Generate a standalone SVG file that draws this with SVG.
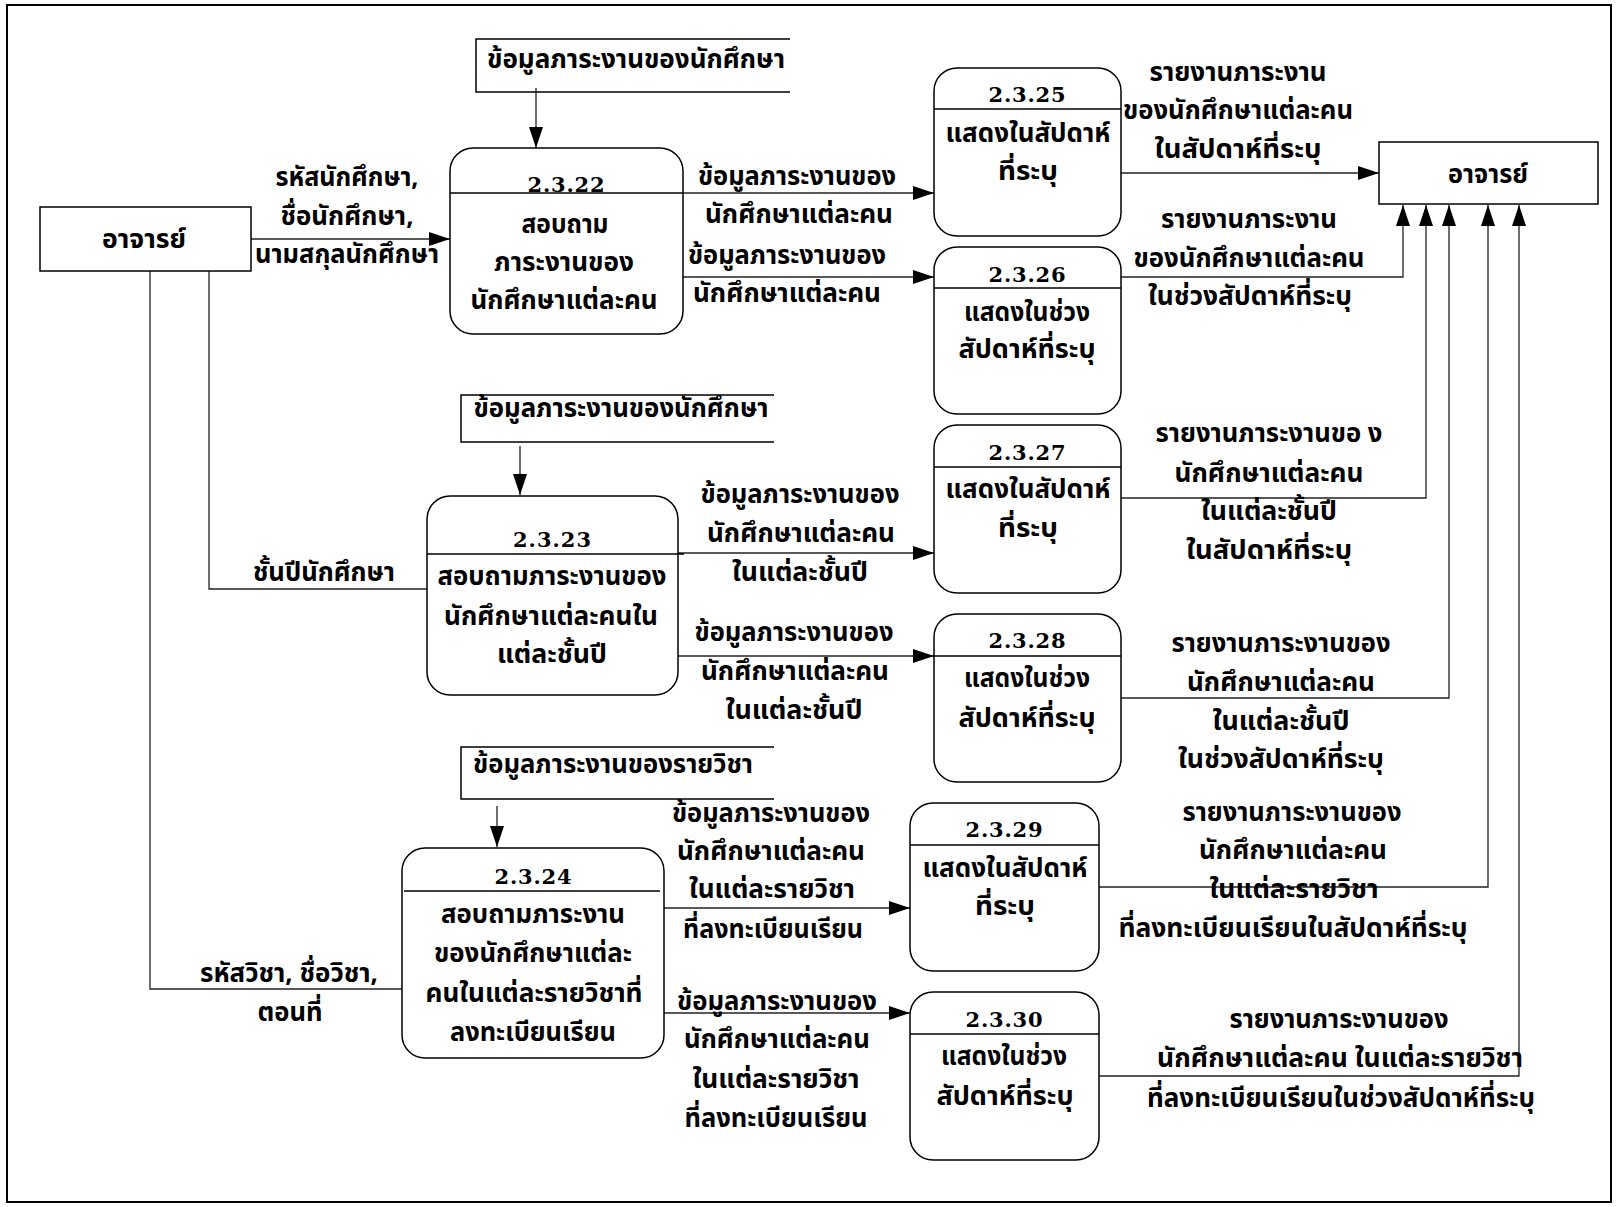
<svg xmlns="http://www.w3.org/2000/svg" width="1617" height="1207" viewBox="0 0 1617 1207">
<style>
.t{font-family:"Noto Sans Thai","Noto Sans","DejaVu Sans",sans-serif;font-weight:bold;font-size:26px;text-anchor:middle;fill:#000}
.n{font-family:"DejaVu Serif","Liberation Serif",serif;font-weight:bold;font-size:21px;text-anchor:middle;fill:#000}
.box{fill:#fff;stroke:#000;stroke-width:1.5}
.div{stroke:#000;stroke-width:1.3}
.ln{fill:none;stroke:#222;stroke-width:1.3}
</style>
<defs>
<marker id="ah" markerWidth="21" markerHeight="14" refX="21" refY="7" orient="auto" markerUnits="userSpaceOnUse">
<path d="M0,0 L21,7 L0,14 Z" fill="#000"/>
</marker>
</defs>
<rect x="0" y="0" width="1617" height="1207" fill="#fff"/>
<rect x="7" y="5" width="1604" height="1197" fill="none" stroke="#000" stroke-width="2"/>

<g id="connectors">
<line class="ln" x1="536" y1="88" x2="536" y2="148" marker-end="url(#ah)"/>
<line class="ln" x1="520" y1="446" x2="520" y2="495" marker-end="url(#ah)"/>
<line class="ln" x1="497" y1="806" x2="497" y2="847" marker-end="url(#ah)"/>
<line class="ln" x1="251" y1="239" x2="450" y2="239" marker-end="url(#ah)"/>
<polyline class="ln" points="209,271 209,589 427,589"/>
<polyline class="ln" points="150,271 150,989 402,989"/>
<line class="ln" x1="683" y1="193" x2="934" y2="193" marker-end="url(#ah)"/>
<line class="ln" x1="683" y1="277" x2="934" y2="277" marker-end="url(#ah)"/>
<line class="ln" x1="678" y1="553" x2="934" y2="553" marker-end="url(#ah)"/>
<line class="ln" x1="678" y1="656" x2="934" y2="656" marker-end="url(#ah)"/>
<line class="ln" x1="664" y1="908" x2="910" y2="908" marker-end="url(#ah)"/>
<line class="ln" x1="664" y1="1013" x2="910" y2="1013" marker-end="url(#ah)"/>
<line class="ln" x1="1121" y1="173" x2="1379" y2="173" marker-end="url(#ah)"/>
<polyline class="ln" points="1121,277 1403,277 1403,205" marker-end="url(#ah)"/>
<polyline class="ln" points="1121,498 1426,498 1426,205" marker-end="url(#ah)"/>
<polyline class="ln" points="1121,698 1449,698 1449,205" marker-end="url(#ah)"/>
<polyline class="ln" points="1099,887 1488,887 1488,205" marker-end="url(#ah)"/>
<polyline class="ln" points="1099,1076 1519,1076 1519,205" marker-end="url(#ah)"/>
</g>

<g id="labels">
<text class="t" x="347" y="186" textLength="143" lengthAdjust="spacingAndGlyphs">รหัสนักศึกษา,</text>
<text class="t" x="347" y="225" textLength="133" lengthAdjust="spacingAndGlyphs">ชื่อนักศึกษา,</text>
<text class="t" x="347" y="263" textLength="184" lengthAdjust="spacingAndGlyphs">นามสกุลนักศึกษา</text>
<text class="t" x="797" y="185" textLength="198" lengthAdjust="spacingAndGlyphs">ข้อมูลภาระงานของ</text>
<text class="t" x="799" y="223" textLength="188" lengthAdjust="spacingAndGlyphs">นักศึกษาแต่ละคน</text>
<text class="t" x="787" y="264" textLength="198" lengthAdjust="spacingAndGlyphs">ข้อมูลภาระงานของ</text>
<text class="t" x="787" y="302" textLength="188" lengthAdjust="spacingAndGlyphs">นักศึกษาแต่ละคน</text>
<text class="t" x="1238" y="81" textLength="177" lengthAdjust="spacingAndGlyphs">รายงานภาระงาน</text>
<text class="t" x="1238" y="119" textLength="230" lengthAdjust="spacingAndGlyphs">ของนักศึกษาแต่ละคน</text>
<text class="t" x="1238" y="158" textLength="167" lengthAdjust="spacingAndGlyphs">ในสัปดาห์ที่ระบุ</text>
<text class="t" x="1249" y="228" textLength="176" lengthAdjust="spacingAndGlyphs">รายงานภาระงาน</text>
<text class="t" x="1249" y="267" textLength="231" lengthAdjust="spacingAndGlyphs">ของนักศึกษาแต่ละคน</text>
<text class="t" x="1250" y="305" textLength="204" lengthAdjust="spacingAndGlyphs">ในช่วงสัปดาห์ที่ระบุ</text>

<text class="t" x="324" y="581" textLength="142" lengthAdjust="spacingAndGlyphs">ชั้นปีนักศึกษา</text>
<text class="t" x="800" y="503" textLength="199" lengthAdjust="spacingAndGlyphs">ข้อมูลภาระงานของ</text>
<text class="t" x="801" y="542" textLength="188" lengthAdjust="spacingAndGlyphs">นักศึกษาแต่ละคน</text>
<text class="t" x="800" y="581" textLength="136" lengthAdjust="spacingAndGlyphs">ในแต่ละชั้นปี</text>
<text class="t" x="794" y="641" textLength="199" lengthAdjust="spacingAndGlyphs">ข้อมูลภาระงานของ</text>
<text class="t" x="795" y="680" textLength="188" lengthAdjust="spacingAndGlyphs">นักศึกษาแต่ละคน</text>
<text class="t" x="794" y="719" textLength="137" lengthAdjust="spacingAndGlyphs">ในแต่ละชั้นปี</text>
<text class="t" x="1269" y="442" textLength="227" lengthAdjust="spacingAndGlyphs">รายงานภาระงานขอ ง</text>
<text class="t" x="1269" y="482" textLength="189" lengthAdjust="spacingAndGlyphs">นักศึกษาแต่ละคน</text>
<text class="t" x="1269" y="520" textLength="136" lengthAdjust="spacingAndGlyphs">ในแต่ละชั้นปี</text>
<text class="t" x="1269" y="559" textLength="166" lengthAdjust="spacingAndGlyphs">ในสัปดาห์ที่ระบุ</text>
<text class="t" x="1281" y="652" textLength="219" lengthAdjust="spacingAndGlyphs">รายงานภาระงานของ</text>
<text class="t" x="1281" y="691" textLength="188" lengthAdjust="spacingAndGlyphs">นักศึกษาแต่ละคน</text>
<text class="t" x="1281" y="730" textLength="137" lengthAdjust="spacingAndGlyphs">ในแต่ละชั้นปี</text>
<text class="t" x="1281" y="768" textLength="206" lengthAdjust="spacingAndGlyphs">ในช่วงสัปดาห์ที่ระบุ</text>

<text class="t" x="289" y="982" textLength="178" lengthAdjust="spacingAndGlyphs">รหัสวิชา, ชื่อวิชา,</text>
<text class="t" x="290" y="1021" textLength="65" lengthAdjust="spacingAndGlyphs">ตอนที่</text>
<text class="t" x="771" y="822" textLength="198" lengthAdjust="spacingAndGlyphs">ข้อมูลภาระงานของ</text>
<text class="t" x="771" y="860" textLength="188" lengthAdjust="spacingAndGlyphs">นักศึกษาแต่ละคน</text>
<text class="t" x="772" y="898" textLength="166" lengthAdjust="spacingAndGlyphs">ในแต่ละรายวิชา</text>
<text class="t" x="773" y="938" textLength="180" lengthAdjust="spacingAndGlyphs">ที่ลงทะเบียนเรียน</text>
<text class="t" x="777" y="1010" textLength="200" lengthAdjust="spacingAndGlyphs">ข้อมูลภาระงานของ</text>
<text class="t" x="777" y="1048" textLength="186" lengthAdjust="spacingAndGlyphs">นักศึกษาแต่ละคน</text>
<text class="t" x="776" y="1088" textLength="167" lengthAdjust="spacingAndGlyphs">ในแต่ละรายวิชา</text>
<text class="t" x="776" y="1127" textLength="183" lengthAdjust="spacingAndGlyphs">ที่ลงทะเบียนเรียน</text>
<text class="t" x="1292" y="821" textLength="219" lengthAdjust="spacingAndGlyphs">รายงานภาระงานของ</text>
<text class="t" x="1293" y="859" textLength="188" lengthAdjust="spacingAndGlyphs">นักศึกษาแต่ละคน</text>
<text class="t" x="1294" y="898" textLength="169" lengthAdjust="spacingAndGlyphs">ในแต่ละรายวิชา</text>
<text class="t" x="1293" y="937" textLength="349" lengthAdjust="spacingAndGlyphs">ที่ลงทะเบียนเรียนในสัปดาห์ที่ระบุ</text>
<text class="t" x="1339" y="1028" textLength="219" lengthAdjust="spacingAndGlyphs">รายงานภาระงานของ</text>
<text class="t" x="1340" y="1067" textLength="366" lengthAdjust="spacingAndGlyphs">นักศึกษาแต่ละคน ในแต่ละรายวิชา</text>
<text class="t" x="1341" y="1107" textLength="388" lengthAdjust="spacingAndGlyphs">ที่ลงทะเบียนเรียนในช่วงสัปดาห์ที่ระบุ</text>
</g>

<g id="ent-left">
<rect class="box" x="40" y="207" width="211" height="64"/>
<text class="t" x="144" y="248" textLength="84" lengthAdjust="spacingAndGlyphs">อาจารย์</text>
</g>
<g id="ent-right">
<rect class="box" x="1379" y="142" width="219" height="62"/>
<text class="t" x="1488" y="183" textLength="80" lengthAdjust="spacingAndGlyphs">อาจารย์</text>
</g>

<g id="store-1">
<polyline class="box" points="790,39 476,39 476,92 790,92" style="fill:none"/>
<text class="t" x="636" y="68" textLength="298" lengthAdjust="spacingAndGlyphs">ข้อมูลภาระงานของนักศึกษา</text>
</g>
<g id="store-2">
<polyline class="box" points="774,395 461,395 461,442 774,442" style="fill:none"/>
<text class="t" x="621" y="417" textLength="295" lengthAdjust="spacingAndGlyphs">ข้อมูลภาระงานของนักศึกษา</text>
</g>
<g id="store-3">
<polyline class="box" points="774,747 461,747 461,799 774,799" style="fill:none"/>
<text class="t" x="613" y="773" textLength="280" lengthAdjust="spacingAndGlyphs">ข้อมูลภาระงานของรายวิชา</text>
</g>

<g id="p-2.3.22">
<rect class="box" x="450" y="148" width="233" height="186" rx="23"/>
<line class="div" x1="450" y1="193" x2="683" y2="193"/>
<text class="n" x="566" y="192" textLength="77" lengthAdjust="spacing">2.3.22</text>
<text class="t" x="565" y="233" textLength="87" lengthAdjust="spacingAndGlyphs">สอบถาม</text>
<text class="t" x="564" y="271" textLength="140" lengthAdjust="spacingAndGlyphs">ภาระงานของ</text>
<text class="t" x="564" y="309" textLength="187" lengthAdjust="spacingAndGlyphs">นักศึกษาแต่ละคน</text>
</g>
<g id="p-2.3.23">
<rect class="box" x="427" y="496" width="251" height="199" rx="23"/>
<line class="div" x1="427" y1="554" x2="684" y2="554"/>
<text class="n" x="552" y="547" textLength="78" lengthAdjust="spacing">2.3.23</text>
<text class="t" x="552" y="585" textLength="229" lengthAdjust="spacingAndGlyphs">สอบถามภาระงานของ</text>
<text class="t" x="551" y="625" textLength="214" lengthAdjust="spacingAndGlyphs">นักศึกษาแต่ละคนใน</text>
<text class="t" x="552" y="663" textLength="110" lengthAdjust="spacingAndGlyphs">แต่ละชั้นปี</text>
</g>
<g id="p-2.3.24">
<rect class="box" x="402" y="848" width="262" height="210" rx="23"/>
<line class="div" x1="404" y1="891" x2="660" y2="891"/>
<text class="n" x="533" y="884" textLength="77" lengthAdjust="spacing">2.3.24</text>
<text class="t" x="533" y="923" textLength="184" lengthAdjust="spacingAndGlyphs">สอบถามภาระงาน</text>
<text class="t" x="533" y="962" textLength="198" lengthAdjust="spacingAndGlyphs">ของนักศึกษาแต่ละ</text>
<text class="t" x="534" y="1002" textLength="217" lengthAdjust="spacingAndGlyphs">คนในแต่ละรายวิชาที่</text>
<text class="t" x="533" y="1041" textLength="166" lengthAdjust="spacingAndGlyphs">ลงทะเบียนเรียน</text>
</g>
<g id="p-2.3.25">
<rect class="box" x="934" y="68" width="187" height="168" rx="23"/>
<line class="div" x1="934" y1="109" x2="1121" y2="109"/>
<text class="n" x="1027" y="102" textLength="77" lengthAdjust="spacing">2.3.25</text>
<text class="t" x="1028" y="142" textLength="165" lengthAdjust="spacingAndGlyphs">แสดงในสัปดาห์</text>
<text class="t" x="1028" y="180" textLength="60" lengthAdjust="spacingAndGlyphs">ที่ระบุ</text>
</g>
<g id="p-2.3.26">
<rect class="box" x="934" y="247" width="187" height="167" rx="23"/>
<line class="div" x1="934" y1="288" x2="1121" y2="288"/>
<text class="n" x="1027" y="282" textLength="77" lengthAdjust="spacing">2.3.26</text>
<text class="t" x="1027" y="321" textLength="126" lengthAdjust="spacingAndGlyphs">แสดงในช่วง</text>
<text class="t" x="1027" y="358" textLength="137" lengthAdjust="spacingAndGlyphs">สัปดาห์ที่ระบุ</text>
</g>
<g id="p-2.3.27">
<rect class="box" x="934" y="425" width="187" height="168" rx="23"/>
<line class="div" x1="934" y1="467" x2="1121" y2="467"/>
<text class="n" x="1027" y="460" textLength="77" lengthAdjust="spacing">2.3.27</text>
<text class="t" x="1028" y="498" textLength="165" lengthAdjust="spacingAndGlyphs">แสดงในสัปดาห์</text>
<text class="t" x="1028" y="537" textLength="60" lengthAdjust="spacingAndGlyphs">ที่ระบุ</text>
</g>
<g id="p-2.3.28">
<rect class="box" x="934" y="614" width="187" height="168" rx="23"/>
<line class="div" x1="934" y1="656" x2="1121" y2="656"/>
<text class="n" x="1027" y="648" textLength="77" lengthAdjust="spacing">2.3.28</text>
<text class="t" x="1027" y="687" textLength="126" lengthAdjust="spacingAndGlyphs">แสดงในช่วง</text>
<text class="t" x="1027" y="727" textLength="137" lengthAdjust="spacingAndGlyphs">สัปดาห์ที่ระบุ</text>
</g>
<g id="p-2.3.29">
<rect class="box" x="910" y="803" width="189" height="168" rx="23"/>
<line class="div" x1="910" y1="845" x2="1099" y2="845"/>
<text class="n" x="1004" y="837" textLength="77" lengthAdjust="spacing">2.3.29</text>
<text class="t" x="1005" y="877" textLength="165" lengthAdjust="spacingAndGlyphs">แสดงในสัปดาห์</text>
<text class="t" x="1005" y="915" textLength="60" lengthAdjust="spacingAndGlyphs">ที่ระบุ</text>
</g>
<g id="p-2.3.30">
<rect class="box" x="910" y="992" width="189" height="168" rx="23"/>
<line class="div" x1="910" y1="1034" x2="1099" y2="1034"/>
<text class="n" x="1004" y="1027" textLength="77" lengthAdjust="spacing">2.3.30</text>
<text class="t" x="1004" y="1065" textLength="126" lengthAdjust="spacingAndGlyphs">แสดงในช่วง</text>
<text class="t" x="1005" y="1105" textLength="137" lengthAdjust="spacingAndGlyphs">สัปดาห์ที่ระบุ</text>
</g>
</svg>
